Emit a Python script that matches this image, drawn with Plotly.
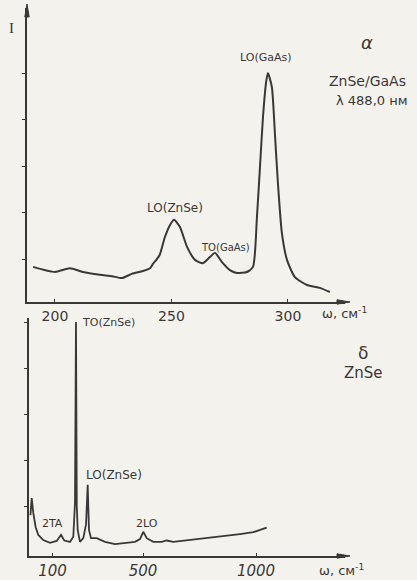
import plotly.graph_objects as go

W, H = 417, 580

# (a) ZnSe/GaAs film, excitation 488.0 nm
film_w = [190.6, 200.0, 206.4, 212.0, 219.3, 224.5, 228.8, 233.0, 237.8, 240.8, 242.0,
          243.5, 245.0, 247.2, 249.4, 251.1, 253.6, 256.7, 260.1, 263.5, 266.5, 268.7,
          271.7, 275.1, 278.1, 282.4, 285.0, 286.7, 288.0, 289.3, 290.6, 291.4, 293.1,
          294.4, 295.7, 297.4, 299.6, 303.0, 308.2, 313.7, 318.0]
film_i = [0.84, 0.73, 0.81, 0.73, 0.67, 0.64, 0.60, 0.69, 0.75, 0.81, 0.90,
          0.99, 1.10, 1.48, 1.74, 1.85, 1.70, 1.27, 0.99, 0.92, 1.05, 1.14,
          0.94, 0.77, 0.71, 0.73, 0.84, 1.91, 2.98, 4.06, 4.79, 5.00, 4.70,
          3.71, 2.64, 1.57, 0.99, 0.62, 0.45, 0.39, 0.30]

# (б) bulk ZnSe
bulk_w = [2, 7.5, 14.6, 25.2, 36.7, 58.8, 88.5, 118.1, 137.2, 151.8, 177, 191.6, 199.1,
          203.5, 207, 211, 221.2, 235.8, 248, 255.3, 261, 269.9, 295.1, 331.9, 376.1,
          420.4, 464.6, 486.7, 501.3, 516.4, 545.6, 582.7, 604.9, 634.1, 708, 781.9,
          855.3, 929.2, 988, 1047.3]
bulk_i = [0.80, 1.17, 0.85, 0.54, 0.37, 0.26, 0.20, 0.24, 0.37, 0.25, 0.22, 0.33, 1.07,
          5.00, 1.00, 0.48, 0.22, 0.30, 0.60, 1.46, 0.48, 0.30, 0.30, 0.22, 0.17,
          0.19, 0.22, 0.28, 0.44, 0.30, 0.22, 0.22, 0.25, 0.22, 0.26, 0.31,
          0.35, 0.39, 0.43, 0.53]

film_ticks = [200, 250, 300]
film_tick_text = ["200", "250", "300"]
bulk_ticks = [100, 500, 1000]
bulk_tick_text = ["<i>100</i>", "<i>500</i>", "<i>1000</i>"]

INK = "#3a3836"
PAPER = "#f4f2ed"
FONT = "DejaVu Sans"


def px(x):
    return x / W


def py(y):
    return 1 - y / H


fig = go.Figure()
fig.add_trace(go.Scatter(x=film_w, y=film_i, mode="lines", xaxis="x", yaxis="y",
                         line=dict(color=INK, width=2, shape="spline", smoothing=0.6),
                         hoverinfo="skip", showlegend=False))
fig.add_trace(go.Scatter(x=bulk_w, y=bulk_i, mode="lines", xaxis="x2", yaxis="y2",
                         line=dict(color=INK, width=1.8), hoverinfo="skip",
                         showlegend=False))

axis_common = dict(showline=True, linecolor=INK, linewidth=1.5, showgrid=False,
                   zeroline=False, tickcolor=INK, ticklen=3, tickwidth=1.2)

fig.update_layout(
    width=W, height=H, margin=dict(l=0, r=0, t=0, b=0),
    paper_bgcolor=PAPER, plot_bgcolor=PAPER,
    font=dict(family=FONT, color=INK),
    xaxis=dict(domain=[px(27), px(345)], range=[188.0, 324.5], anchor="y",
               ticks="inside", tickvals=film_ticks, ticktext=film_tick_text,
               tickfont=dict(size=14, family=FONT, color=INK), **axis_common),
    yaxis=dict(domain=[py(302), py(8)], range=[0.086, 6.395], anchor="x",
               ticks="outside", tickvals=[1, 2, 3, 4, 5], showticklabels=False,
               **axis_common),
    xaxis2=dict(domain=[px(29), px(345)], range=[-4.4, 1393.8], anchor="y2",
                ticks="inside", tickvals=bulk_ticks, ticktext=bulk_tick_text,
                tickfont=dict(size=15, family=FONT, color=INK), **axis_common),
    yaxis2=dict(domain=[py(556), py(318)], range=[-0.087, 5.087], anchor="x2",
                ticks="outside", tickvals=[1, 2, 3, 4, 5], showticklabels=False,
                **axis_common),
)


def label(x, y, text, size=10, xanchor="center", family=FONT):
    fig.add_annotation(x=px(x), y=py(y), xref="paper", yref="paper", text=text,
                       showarrow=False, xanchor=xanchor, yanchor="middle",
                       font=dict(size=size, color=INK, family=family))


def arrowhead(points):
    path = "M " + " L ".join(f"{px(x):.5f},{py(y):.5f}" for x, y in points) + " Z"
    fig.add_shape(type="path", path=path, xref="paper", yref="paper",
                  fillcolor=INK, line=dict(color=INK, width=1))


# axis arrowheads
arrowhead([(27, 4), (24.8, 17), (29.2, 17)])
arrowhead([(350, 302), (337, 299.8), (337, 304.2)])
arrowhead([(350, 556), (337, 553.8), (337, 558.2)])

# intensity axis symbol
label(11, 28, "I", size=15, family="Liberation Serif")

# panel (a)
label(266, 57, "LO(GaAs)", size=11)
label(175, 208, "LO(ZnSe)", size=12)
label(225, 248, "TO(GaAs)", size=10)
label(367, 42, "<i>α</i>", size=18)
label(367, 81, "ZnSe/GaAs", size=14)
label(371, 100, "λ 488,0 нм", size=13)
label(344, 313, "ω, см<sup>-1</sup>", size=13)

# panel (б)
label(80, 323, "TO(ZnSe)", size=11, xanchor="left")
label(114, 475, "LO(ZnSe)", size=12)
label(52, 523, "2TA", size=11)
label(147, 523, "2LO", size=11)
label(363, 353, "δ", size=17)
label(363, 373, "ZnSe", size=15)
label(341, 570, "ω, см<sup>-1</sup>", size=13)

fig.write_html("out.html")
